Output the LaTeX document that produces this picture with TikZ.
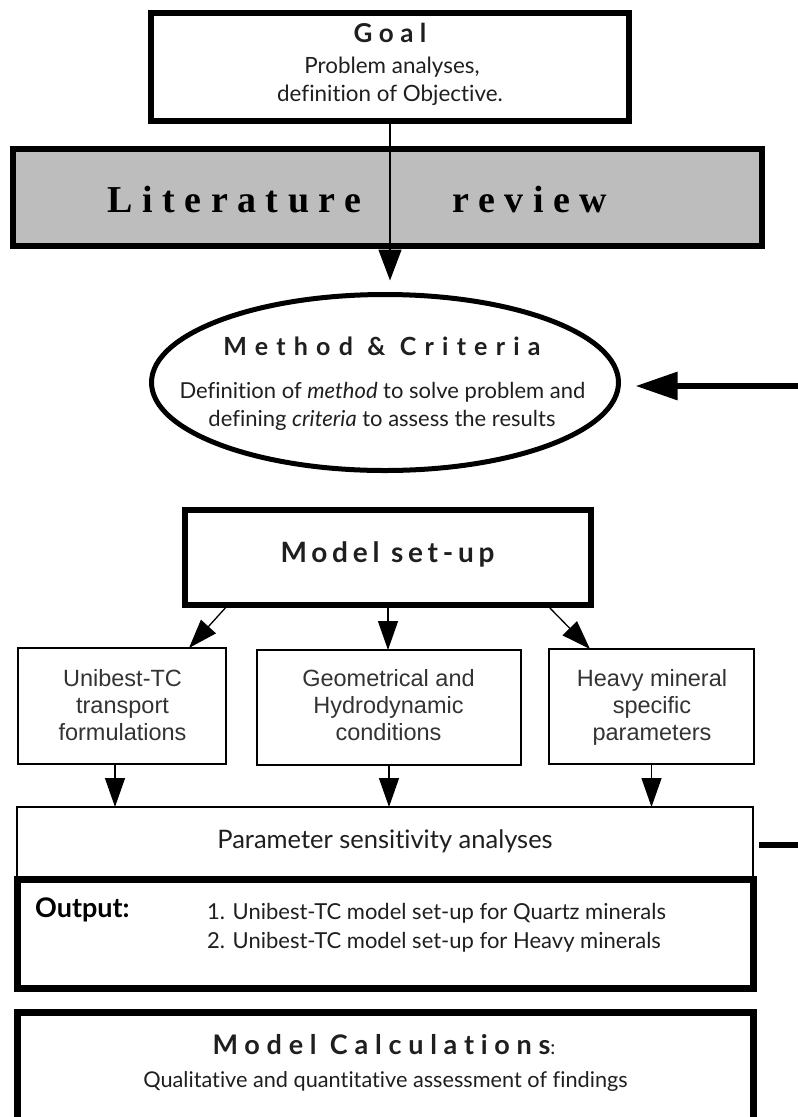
\documentclass[tikz,border=0pt]{standalone}
\usepackage{fontspec}
\setmainfont{Lato}
\newfontfamily\gs[Ligatures=NoCommon]{Lato}
\newfontfamily\gsls[LetterSpace=25,Ligatures=NoCommon]{Lato}
\newfontfamily\gslw[LetterSpace=33,Ligatures=NoCommon]{Lato}
\newfontfamily\gslm[LetterSpace=17,Ligatures=NoCommon]{Lato}
\newfontfamily\ar{Liberation Sans}
\newfontfamily\tmls[LetterSpace=25]{Liberation Serif}
\usetikzlibrary{arrows.meta,shapes.geometric,calc}
\begin{document}
\begin{tikzpicture}[x=1pt,y=-1pt,
  box/.style={draw=black, fill=white, inner sep=0pt, outer sep=0pt},
  heavybox/.style={box, line width=6pt},
  lightbox/.style={box, line width=1.5pt},
  txt/.style={inner sep=0pt, anchor=base, text=black!88},
  arr/.style={line width=1.3pt, -{Triangle[length=29pt,width=20pt]}},
  fb/.style={line width=6pt},
]
\useasboundingbox (0,0) rectangle (798,1117);
\clip (0,0) rectangle (798,1117);
\fill[white] (0,0) rectangle (798,1117);

% Goal
\node[heavybox, minimum width=478pt, minimum height=108pt] (goal) at (390,67) {};
\node[txt] (goalt) at (390,42) {\gsls\bfseries\fontsize{26}{28}\selectfont Goal};
\node[txt] (goal1) at (392,73) {\gs\fontsize{22.4}{26}\selectfont Problem analyses,};
\node[txt] (goal2) at (390,101) {\gs\fontsize{22.4}{26}\selectfont definition of Objective.};

% Literature review
\node[box, line width=6.5pt, fill=gray!52, minimum width=749pt, minimum height=97pt] (lit) at (387.5,197.5) {};
\node[txt, text=black] (litl) at (234.5,212) {\tmls\bfseries\fontsize{38}{40}\selectfont Literature};
\node[txt, text=black] (litr) at (530,212) {\tmls\bfseries\fontsize{38}{40}\selectfont review};

% Method & Criteria
\node[ellipse, draw=black, fill=white, line width=5pt, minimum width=467pt, minimum height=176pt, inner sep=0pt] (ell) at (385,382.5) {};
\node[txt] (ellt) at (382,355) {\gslw\bfseries\fontsize{25}{28}\selectfont Method \& Criteria};
\node[txt] (ell1) at (382.5,398) {\gs\fontsize{22}{26}\selectfont Definition of \textit{method} to solve problem and};
\node[txt] (ell2) at (382,426) {\gs\fontsize{22}{26}\selectfont defining \textit{criteria} to assess the results};

\path ([yshift=11.5pt]ell.north) coordinate (etop);
\draw[line width=1.5pt, -{Triangle[length=31pt,width=23pt]}] (goal.south) -- (goal.south |- etop);

% feedback arrow
\coordinate (fbtop) at (805,386);
\coordinate (fbbot) at (805,845);
\draw[fb, -{Triangle[length=42pt,width=27pt]}] (fbtop) -- ($(ell.east |- fbtop)+(14.5,0)$);

% Model set-up
\node[heavybox, minimum width=406pt, minimum height=95pt] (model) at (388,557.5) {};
\node[txt] (modelt) at (387.5,562) {\gslm\bfseries\fontsize{28}{30}\selectfont Model set-up};

% three boxes
\node[lightbox, minimum width=208pt, minimum height=116pt] (uni) at (122,706) {};
\node[lightbox, minimum width=264pt, minimum height=115pt] (geo) at (389,707.5) {};
\node[lightbox, minimum width=205pt, minimum height=115pt] (hvy) at (651.5,706.5) {};
\foreach \nm/\x/\a/\b/\c in {u/122.5/Unibest-TC/transport/formulations,
                           g/388.5/Geometrical and/Hydrodynamic/conditions,
                           h/652/Heavy mineral/specific/parameters}{
  \node[txt, text=black!80] (\nm1) at (\x,686) {\ar\fontsize{23.5}{26}\selectfont \a};
  \node[txt, text=black!80] (\nm2) at (\x,713) {\ar\fontsize{23.5}{26}\selectfont \b};
  \node[txt, text=black!80] (\nm3) at (\x,740) {\ar\fontsize{23.5}{26}\selectfont \c};
}

\draw[arr] ([xshift=43pt]model.south west) -- ([xshift=-37pt]uni.north east);
\draw[arr] (model.south) -- (model.south |- geo.north);
\draw[arr] ([xshift=-44pt]model.south east) -- ([xshift=41pt]hvy.north west);

% Parameter sensitivity
\node[lightbox, minimum width=736pt, minimum height=74pt] (param) at (385,844) {};
\node[txt] (paramt) at (385,848) {\gs\fontsize{25.5}{28}\selectfont Parameter sensitivity analyses};
\path (uni.south) ++(-7,0) coordinate (u1);
\draw[arr] (u1) -- (u1 |- param.north);
\draw[arr] (geo.south) -- (geo.south |- param.north);
\draw[arr] (hvy.south) -- (hvy.south |- param.north);
\draw[fb] ($(param.east |- fbbot)+(6,0)$) -- (fbbot);

% Output
\node[heavybox, line width=7pt, minimum width=736pt, minimum height=109pt] (out) at (385.5,934) {};
\node[txt, anchor=base west, text=black] (outl) at (35,917) {\gs\bfseries\fontsize{27}{30}\selectfont Output:};
\node[txt, anchor=base west] (out1) at (207,919) {\gs\fontsize{22}{26}\selectfont 1. Unibest-TC model set-up for Quartz minerals};
\node[txt, anchor=base west] (out2) at (207,948) {\gs\fontsize{22}{26}\selectfont 2. Unibest-TC model set-up for Heavy minerals};

% Model calculations
\node[heavybox, line width=7pt, minimum width=736pt, minimum height=200pt] (calc) at (385.5,1112.5) {};
\node[txt] (calct) at (384,1054) {\gsls\bfseries\fontsize{27}{30}\selectfont Model Calculations\gs\mdseries\fontsize{20}{24}\selectfont :};
\node[txt] (calc1) at (385.5,1087) {\gs\fontsize{21.7}{26}\selectfont Qualitative and quantitative assessment of findings};
\end{tikzpicture}
\end{document}
